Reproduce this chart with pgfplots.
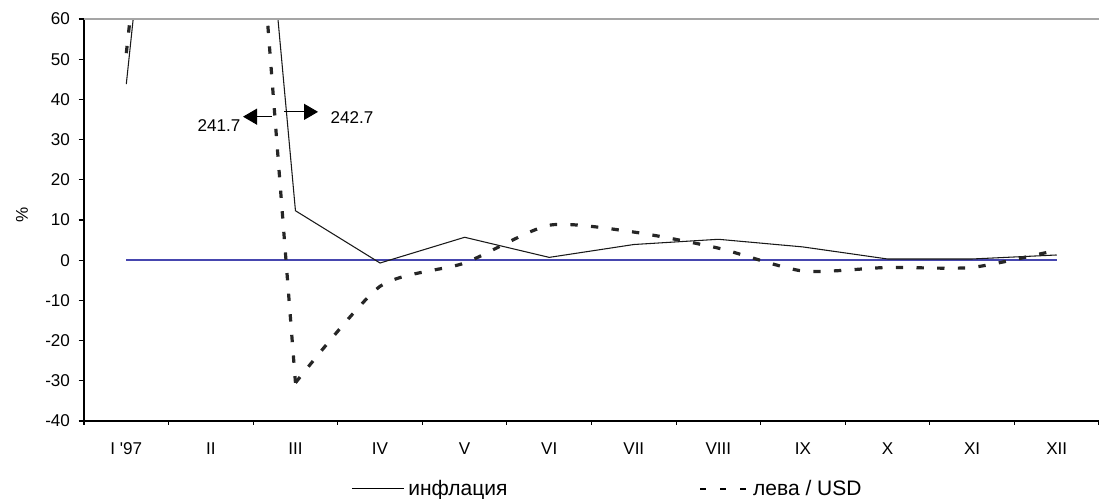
\documentclass[border=0pt]{standalone}
\usepackage{pgfplots}
\pgfplotsset{compat=1.18}
\usepackage{fontspec}
\setmainfont{Liberation Sans}
\usetikzlibrary{arrows.meta}
\definecolor{zeroblue}{RGB}{70,70,175}
\definecolor{topgray}{RGB}{165,165,165}

\begin{document}
\begin{tikzpicture}
\begin{axis}[
  scale only axis,
  width=761.25pt, height=301.5pt,
  xmin=0.5, xmax=12.5,
  ymin=-40, ymax=60,
  axis x line*=bottom, axis y line*=left,
  axis line style={black, line width=0.9pt, -},
  ytick={-40,-30,...,60},
  xtick={1,...,12},
  xticklabels={I \textquotesingle 97,II,III,IV,V,VI,VII,VIII,IX,X,XI,XII},
  minor xtick={0.5,1.5,...,12.5},
  major x tick style={draw=none},
  minor x tick style={black, line width=0.8pt},
  ytick style={black, line width=0.8pt},
  tick align=outside,
  major tick length=4pt, minor tick length=3pt,
  /pgf/number format/assume math mode=true,
  tick label style={font=\fontsize{12.8}{14}\selectfont},
  xticklabel style={yshift=-9pt},
  yticklabel style={xshift=-3pt},
  ylabel={\%},
  every axis y label/.style={at={(rel axis cs:-0.0611,0.512)}, rotate=90, anchor=center, font=\fontsize{12.8}{14}\selectfont},
  clip mode=individual,
  legend columns=2,
  legend style={draw=none, fill=none, at={(rel axis cs:0.516,-0.169)}, anchor=center,
    font=\fontsize{15.75}{18}\selectfont,
    /tikz/every odd column/.append style={column sep=1pt},
    /tikz/every even column/.append style={column sep=142pt}},
]
\addplot[zeroblue, line width=1.7pt, forget plot] coordinates {(1,0) (12,0)};

\addplot[black!90, line width=0.8pt,
  legend image code/.code={\draw[black, line width=0.8pt] (0pt,0pt) -- (39pt,0pt);}]
  coordinates {
  (1,43.8) (2,242.7) (3,12.3) (4,-0.7) (5,5.7) (6,0.7)
  (7,3.9) (8,5.2) (9,3.3) (10,0.3) (11,0.3) (12,1.3)
};
\addlegendentry{инфлация}

% sharp part of the leva/USD line (the spike is clipped)
\addplot[black!85, line width=2.4pt, dash pattern=on 5.5pt off 10pt, forget plot]
  coordinates {(1,51.5) (2,241.7) (3,-30.5)};

\addplot[black!85, line width=2.4pt, smooth, tension=0.4, dash pattern=on 5.5pt off 10pt,
  legend image code/.code={\draw[black, line width=1.3pt, dash pattern=on 4pt off 11pt] (0pt,0pt) -- (36pt,0pt);}]
  coordinates {
  (3,-30.5) (4,-6.5) (5,-0.7) (6,8.7)
  (7,7.0) (8,3.0) (9,-2.7) (10,-1.8) (11,-1.8) (12,2.5)
};
\addlegendentry{лева / USD}

\draw[topgray, line width=1.2pt] (rel axis cs:0,1) -- (rel axis cs:1,1);

\draw[-{Triangle[length=10.5pt,width=12pt]}, line width=0.8pt] (axis cs:2.72,35.7) -- (axis cs:2.38,35.7);
\node[font=\fontsize{12.8}{14}\selectfont] at (axis cs:2.096,33.5) {241.7};
\draw[-{Triangle[length=10.5pt,width=12pt]}, line width=0.8pt] (axis cs:2.865,36.9) -- (axis cs:3.267,36.9);
\node[font=\fontsize{12.8}{14}\selectfont] at (axis cs:3.669,35.4) {242.7};

\coordinate (bbsw) at (rel axis cs:-0.08276,-0.19403);
\coordinate (bbne) at (rel axis cs:1,1.04726);
\end{axis}
\pgfresetboundingbox
\path (bbsw) rectangle (bbne);
\end{tikzpicture}
\end{document}
